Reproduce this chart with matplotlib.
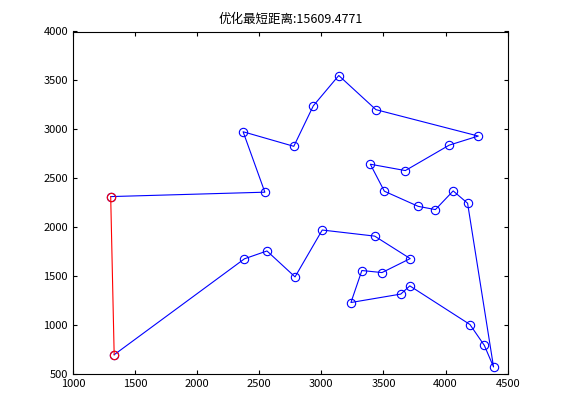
import matplotlib
matplotlib.use('Agg')
import matplotlib.pyplot as plt

tour_x = [1332, 2381, 2562, 2788, 3007, 3429, 3715, 3488, 3326, 3238, 3639, 3712, 4196, 4312, 4386,
          4177, 4061, 3918, 3780, 3507, 3394, 3676, 4029, 4263, 3439, 3140, 2935, 2778, 2370, 2545, 1304]
tour_y = [695, 1676, 1756, 1491, 1970, 1908, 1678, 1535, 1556, 1229, 1315, 1399, 1004, 790, 570,
          2244, 2370, 2179, 2212, 2367, 2643, 2578, 2838, 2931, 3201, 3550, 3240, 2826, 2975, 2357, 2312]
title = '优化最短距离:15609.4771'

plt.rcParams['font.family'] = ['Noto Sans CJK SC', 'DejaVu Sans']
fig = plt.figure(figsize=(5.61, 4.20), dpi=100)
ax = fig.add_axes([0.13, 0.11, 0.775, 0.815])
ax.plot(tour_x, tour_y, 'b-', lw=0.8)
ax.plot(tour_x, tour_y, 'o', mfc='none', mec='b', ms=6, mew=0.8)
ax.plot([tour_x[-1], tour_x[0]], [tour_y[-1], tour_y[0]], 'r-', lw=0.8)
ax.plot([tour_x[-1], tour_x[0]], [tour_y[-1], tour_y[0]], 'o', mfc='none', mec='r', ms=6, mew=0.8)
ax.set_xlim(1000, 4500)
ax.set_ylim(500, 4000)
ax.set_xticks(range(1000, 4501, 500))
ax.set_yticks(range(500, 4001, 500))
ax.tick_params(direction='in', labelsize=8, top=True, right=True, length=3)
ax.set_title(title, fontsize=9)
fig.savefig('out.png')
